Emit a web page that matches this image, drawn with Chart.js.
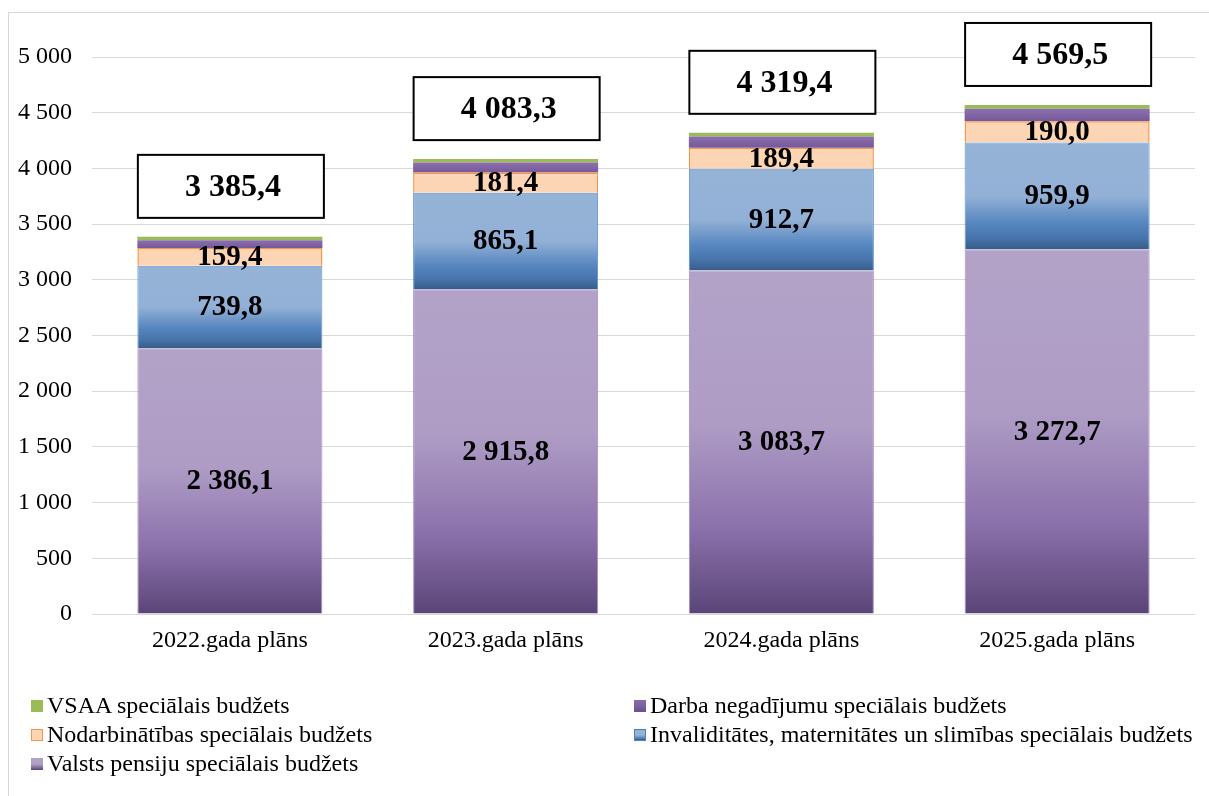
<!DOCTYPE html>
<html>
<head>
<meta charset="utf-8">
<script src="https://cdn.jsdelivr.net/npm/chart.js@4"></script>
<style>
  html, body { margin: 0; padding: 0; background: #fff; overflow: hidden; }
  #wrap { position: relative; width: 1209px; height: 796px; }
  #frame { position: absolute; left: 8px; top: 12px; width: 1220px; height: 800px; border: 1px solid #d9d9d9; box-sizing: border-box; }
  canvas { position: absolute; left: 0; top: 0; }
  .leg { position: absolute; font-family: "Liberation Serif", "Times New Roman", serif; font-size: 24px; color: #000; white-space: nowrap; line-height: 26px; }
  .leg i { display: inline-block; width: 12px; height: 12px; margin-right: 4px; vertical-align: 1px; box-sizing: border-box; }
</style>
</head>
<body>
<div id="wrap">
  <div id="frame"></div>
  <canvas id="budzets_chart" width="1209" height="796"></canvas>
  <div class="leg" style="left:31px; top:692px;"><i style="background:#9bbb59"></i>VSAA speciālais budžets</div>
  <div class="leg" style="left:31px; top:721px;"><i style="background:#fcd5b4; border:1.5px solid #f79646"></i>Nodarbinātības speciālais budžets</div>
  <div class="leg" style="left:31px; top:750px;"><i style="background:linear-gradient(#b2a1c7 50%, #5a4678)"></i>Valsts pensiju speciālais budžets</div>
  <div class="leg" style="left:634px; top:692px;"><i style="background:linear-gradient(#8a6eab, #6b5090)"></i>Darba negadījumu speciālais budžets</div>
  <div class="leg" style="left:634px; top:721px;"><i style="background:linear-gradient(#95b3d7 50%, #3a5e8c); border:1px solid #4f81bd"></i>Invaliditātes, maternitātes un slimības speciālais budžets</div>
</div>
<script>
// dati (milj. EUR)
var categories = ['2022.gada plāns', '2023.gada plāns', '2024.gada plāns', '2025.gada plāns'];
var pensiju = [2386.1, 2915.8, 3083.7, 3272.7];
var invaliditates = [739.8, 865.1, 912.7, 959.9];
var nodarbinatibas = [159.4, 181.4, 189.4, 190.0];
var darbaNegadijumu = [70.6, 90.0, 100.0, 112.0];
var vsaa = [29.5, 31.0, 33.6, 34.9];
var totals = [3385.4, 4083.3, 4319.4, 4569.5];
var yTicks = [0, 500, 1000, 1500, 2000, 2500, 3000, 3500, 4000, 4500, 5000];

var serif = '"Liberation Serif", "Times New Roman", serif';

// 1234.5 -> "1 234,5"
function fmt(v, dec) {
  var s = v.toFixed(dec).split('.');
  var int = s[0].replace(/\B(?=(\d{3})+(?!\d))/g, ' ');
  return s.length > 1 ? int + ',' + s[1] : int;
}

var stackData = [pensiju, invaliditates, nodarbinatibas, darbaNegadijumu, vsaa];

// gradient across one bar segment
function segGradient(stops, fallback) {
  return function(c) {
    var chart = c.chart;
    if (c.dataIndex === undefined || !chart.chartArea || !chart.scales.y) return fallback;
    var base = 0;
    for (var d = 0; d < c.datasetIndex; d++) base += stackData[d][c.dataIndex];
    var val = stackData[c.datasetIndex][c.dataIndex];
    var y = chart.scales.y;
    var top = y.getPixelForValue(base + val);
    var bot = y.getPixelForValue(base);
    var g = chart.ctx.createLinearGradient(0, top, 0, bot);
    stops.forEach(function(s) { g.addColorStop(s[0], s[1]); });
    return g;
  };
}

var labelPlugin = {
  id: 'labels',
  afterDatasetsDraw: function(chart) {
    var ctx = chart.ctx;
    ctx.save();
    ctx.textAlign = 'center';
    ctx.textBaseline = 'middle';
    ctx.fillStyle = '#000';
    ctx.font = 'bold 29px ' + serif;
    [0, 1, 2].forEach(function(di) {
      chart.getDatasetMeta(di).data.forEach(function(el, i) {
        ctx.fillText(fmt(stackData[di][i], 1), el.x, (el.y + el.base) / 2 + 1);
      });
    });
    // total boxes
    var topMeta = chart.getDatasetMeta(4);
    topMeta.data.forEach(function(el, i) {
      var w = el.width + 1;
      var h = 63;
      var bottom = el.y - 19;
      var left = el.x - w / 2 + 1;
      ctx.fillStyle = '#fff';
      ctx.fillRect(left, bottom - h, w, h);
      ctx.lineWidth = 2;
      ctx.strokeStyle = '#000';
      ctx.strokeRect(left, bottom - h, w, h);
      ctx.fillStyle = '#000';
      ctx.font = 'bold 32px ' + serif;
      ctx.fillText(fmt(totals[i], 1), el.x + 3, bottom - h / 2 + 1);
    });
    ctx.restore();
  }
};

var ctx1 = document.getElementById('budzets_chart');
var budzetsChart = new Chart(ctx1, {
  type: 'bar',
  data: {
    labels: categories,
    datasets: [{
        label: 'Valsts pensiju speciālais budžets',
        data: pensiju,
        backgroundColor: segGradient([[0, '#b3a2c8'], [0.45, '#ae9cc5'], [0.75, '#8b71ab'], [1, '#5a4577']], '#b2a1c7'),
        borderColor: '#a590c4',
        borderWidth: 1
      }, {
        label: 'Invaliditātes, maternitātes un slimības speciālais budžets',
        data: invaliditates,
        backgroundColor: segGradient([[0, '#95b3d7'], [0.5, '#93b1d6'], [0.75, '#5787c0'], [0.9, '#4673aa'], [1, '#385c88']], '#95b3d7'),
        borderColor: '#5b8fd0',
        borderWidth: 1
      }, {
        label: 'Nodarbinātības speciālais budžets',
        data: nodarbinatibas,
        backgroundColor: '#fcd5b4',
        borderColor: '#f79646',
        borderWidth: 1.5
      }, {
        label: 'Darba negadījumu speciālais budžets',
        data: darbaNegadijumu,
        backgroundColor: segGradient([[0, '#8c70ae'], [1, '#74589a']], '#8064a2'),
        borderColor: '#8064a2',
        borderWidth: 0
      }, {
        label: 'VSAA speciālais budžets',
        data: vsaa,
        backgroundColor: '#9bbb59',
        borderColor: '#9bbb59',
        borderWidth: 0
      }]
  },
  options: {
    responsive: false,
    animation: false,
    layout: {
      padding: { left: 0, right: 14, top: 57, bottom: 0 }
    },
    datasets: {
      bar: { barPercentage: 0.671, categoryPercentage: 1 }
    },
    plugins: {
      legend: { display: false },
      tooltip: { enabled: false }
    },
    scales: {
      x: {
        stacked: true,
        grid: { display: false, drawTicks: false },
        border: { display: false },
        ticks: { color: '#000', font: { family: serif, size: 24 }, padding: 12 },
        afterFit: function(scale) { scale.height = 182; }
      },
      y: {
        stacked: true,
        min: 0,
        max: 5000,
        afterBuildTicks: function(scale) {
          scale.ticks = yTicks.map(function(v) { return { value: v }; });
        },
        ticks: {
          color: '#000',
          font: { family: serif, size: 24 },
          padding: 20,
          callback: function(v) { return fmt(v, 0); }
        },
        grid: { color: '#d9d9d9', lineWidth: 1, drawTicks: false },
        border: { display: false },
        afterFit: function(scale) { scale.width = 92; }
      }
    }
  },
  plugins: [labelPlugin]
});
</script>
</body>
</html>
